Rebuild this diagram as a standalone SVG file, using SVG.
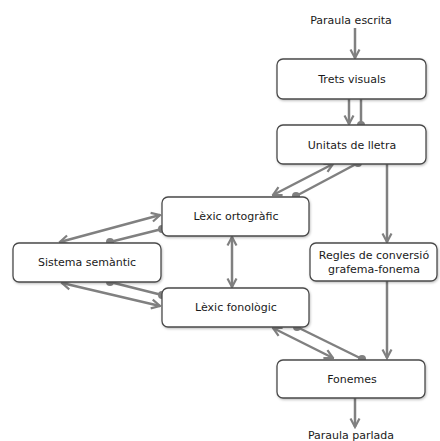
<svg xmlns="http://www.w3.org/2000/svg" width="440" height="441" viewBox="0 0 440 441">
<style>
.box{fill:#fff;stroke:#4a4a4a;stroke-width:1.3}
.t{font-family:"DejaVu Sans",Verdana,sans-serif;font-size:11px;fill:#1a1a1a;text-anchor:middle}
.c{stroke:#808080;stroke-width:2.5;fill:none}
.a{marker-end:url(#ah)}
.aa{marker-start:url(#ah);marker-end:url(#ah)}
.dd{marker-start:url(#dot);marker-end:url(#dot)}
.d{marker-end:url(#dot)}
</style>
<defs>
<marker id="ah" viewBox="0 0 12 12" refX="10.5" refY="6" markerWidth="12" markerHeight="12" markerUnits="userSpaceOnUse" orient="auto-start-reverse">
<path d="M2,1.5 L10.5,6 L2,10.5" fill="none" stroke="#808080" stroke-width="2.2"/>
</marker>
<marker id="dot" viewBox="0 0 10 10" refX="5" refY="5" markerWidth="8" markerHeight="8" markerUnits="userSpaceOnUse">
<circle cx="5" cy="5" r="5" fill="#808080"/>
</marker>
<filter id="sh" x="-10%" y="-10%" width="120%" height="130%">
<feDropShadow dx="0.8" dy="1.2" stdDeviation="0.8" flood-color="#000" flood-opacity="0.25"/>
</filter>
</defs>
<g id="connectors">
<line class="c a" x1="355" y1="28" x2="355" y2="58"/>
<line class="c a" x1="349" y1="99" x2="349" y2="124"/>
<line class="c d" x1="361" y1="99" x2="361" y2="125"/>
<line class="c aa" x1="273" y1="195" x2="333" y2="164"/>
<line class="c dd" x1="296" y1="196" x2="358" y2="163"/>
<line class="c aa" x1="60" y1="242" x2="160" y2="215"/>
<line class="c dd" x1="110" y1="242" x2="162" y2="229"/>
<line class="c aa" x1="62" y1="283" x2="160" y2="306"/>
<line class="c dd" x1="110" y1="282" x2="162" y2="295"/>
<line class="c aa" x1="232" y1="237" x2="232" y2="287"/>
<line class="c a" x1="387" y1="164" x2="387" y2="242"/>
<line class="c a" x1="387" y1="281" x2="387" y2="358"/>
<line class="c aa" x1="273" y1="328" x2="333" y2="358"/>
<line class="c dd" x1="297" y1="327" x2="362" y2="359"/>
<line class="c a" x1="355" y1="398" x2="355" y2="427"/>
</g>
<g id="paraula-escrita"><text class="t" x="351" y="24">Paraula escrita</text></g>
<g id="trets-visuals"><rect class="box" filter="url(#sh)" x="277" y="59" width="149" height="40" rx="6"/><text class="t" x="352" y="83">Trets visuals</text></g>
<g id="unitats-lletra"><rect class="box" filter="url(#sh)" x="277" y="125" width="149" height="39" rx="6"/><text class="t" x="352" y="149">Unitats de lletra</text></g>
<g id="lexic-ortografic"><rect class="box" filter="url(#sh)" x="162" y="197" width="147" height="39" rx="6"/><text class="t" x="236" y="220">Lèxic ortogràfic</text></g>
<g id="sistema-semantic"><rect class="box" filter="url(#sh)" x="13" y="243" width="148" height="39" rx="6"/><text class="t" x="87" y="266">Sistema semàntic</text></g>
<g id="regles"><rect class="box" filter="url(#sh)" x="310" y="243" width="127" height="38" rx="6"/><text class="t" x="374" y="259">Regles de conversió</text><text class="t" x="374" y="273">grafema-fonema</text></g>
<g id="lexic-fonologic"><rect class="box" filter="url(#sh)" x="162" y="288" width="147" height="39" rx="6"/><text class="t" x="236" y="311">Lèxic fonològic</text></g>
<g id="fonemes"><rect class="box" filter="url(#sh)" x="277" y="360" width="148" height="38" rx="6"/><text class="t" x="352" y="383">Fonemes</text></g>
<g id="paraula-parlada"><text class="t" x="351" y="439">Paraula parlada</text></g>
</svg>
